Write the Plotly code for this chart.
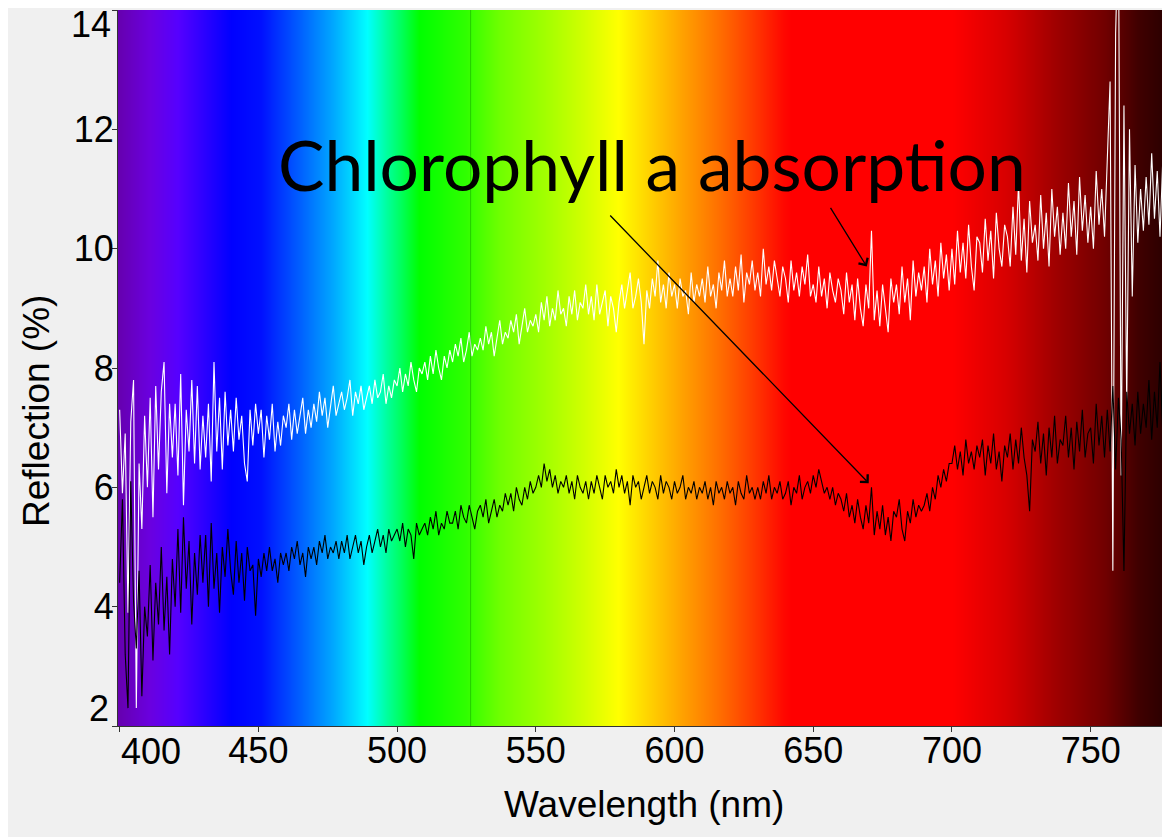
import plotly.graph_objects as go

# ---------------- data ----------------
wavelength_start = 400
wavelength_end = 778
wavelengths = list(range(wavelength_start, wavelength_end + 1))

white_reflection = [
    7.30, 5.90, 6.90, 3.90, 7.10, 7.80, 2.30, 6.40, 5.30, 7.20,   # 400
    6.00, 7.50, 5.50, 7.70, 6.30, 7.60, 8.10, 5.90, 7.40, 6.50,   # 410
    7.40, 6.20, 7.90, 5.70, 7.30, 6.60, 7.80, 6.40, 7.70, 6.30,   # 420
    7.20, 6.50, 7.40, 6.10, 8.10, 6.60, 7.50, 6.30, 7.60, 6.70,   # 430
    7.30, 6.60, 7.50, 6.80, 7.20, 6.40, 6.10, 7.30, 6.70, 7.40,   # 440
    6.90, 7.30, 6.50, 7.20, 6.80, 7.40, 6.60, 7.10, 6.70, 7.20,   # 450
    7.00, 7.40, 6.80, 7.30, 6.90, 7.20, 7.50, 6.90, 7.30, 7.00,   # 460
    7.40, 7.10, 7.60, 7.20, 7.50, 7.00, 7.40, 7.70, 7.20, 7.40,   # 470
    7.60, 7.30, 7.50, 7.80, 7.20, 7.60, 7.40, 7.70, 7.30, 7.50,   # 480
    7.70, 7.40, 7.80, 7.50, 7.60, 7.90, 7.40, 7.70, 7.50, 7.80,   # 490
    7.70, 8.00, 7.60, 7.90, 7.70, 8.10, 7.80, 7.60, 8.00, 7.90,   # 500
    8.10, 7.80, 8.20, 7.90, 8.30, 8.00, 7.80, 8.20, 8.00, 8.30,   # 510
    8.10, 8.40, 8.20, 8.50, 8.10, 8.30, 8.60, 8.20, 8.40, 8.30,   # 520
    8.50, 8.30, 8.70, 8.40, 8.60, 8.20, 8.50, 8.80, 8.40, 8.60,   # 530
    8.50, 8.80, 8.60, 8.90, 8.40, 8.70, 9.00, 8.60, 8.80, 8.70,   # 540
    8.90, 8.60, 9.10, 8.80, 9.20, 8.70, 9.00, 8.80, 9.30, 8.90,   # 550
    9.00, 8.70, 9.20, 8.90, 9.30, 8.80, 9.10, 9.00, 9.40, 8.90,   # 560
    9.20, 8.80, 9.40, 8.90, 9.10, 9.30, 8.70, 9.20, 9.00, 8.60,   # 570
    9.10, 9.40, 9.00, 9.30, 9.60, 9.00, 9.20, 9.50, 9.10, 8.40,   # 580
    9.30, 9.00, 9.50, 9.20, 9.80, 9.10, 9.40, 9.00, 9.60, 9.20,   # 590
    9.40, 9.00, 9.50, 9.20, 9.30, 8.90, 9.60, 9.10, 9.40, 9.20,   # 600
    9.50, 9.10, 9.70, 9.20, 9.40, 9.00, 9.60, 9.30, 9.80, 9.20,   # 610
    9.50, 9.20, 9.70, 9.30, 9.90, 9.10, 9.60, 9.40, 9.80, 9.30,   # 620
    9.60, 9.20, 10.00, 9.40, 9.70, 9.30, 9.80, 9.50, 9.20, 9.70,  # 630
    9.50, 9.10, 9.80, 9.30, 9.60, 9.20, 9.70, 9.40, 9.90, 9.20,   # 640
    9.40, 9.10, 9.70, 9.20, 9.50, 9.00, 9.60, 9.30, 9.10, 9.50,   # 650
    9.30, 8.90, 9.60, 9.10, 9.40, 8.80, 9.50, 9.00, 8.70, 9.40,   # 660
    9.00, 10.30, 8.80, 9.30, 8.70, 9.40, 9.00, 8.60, 9.50, 9.10,  # 670
    9.40, 8.90, 9.70, 9.10, 9.50, 8.80, 9.80, 9.20, 9.60, 9.30,   # 680
    9.70, 9.10, 10.00, 9.40, 9.80, 9.20, 10.10, 9.50, 9.90, 9.30, # 690
    10.00, 9.40, 10.30, 9.60, 10.10, 9.50, 10.40, 9.70, 9.30, 10.20,   # 700
    10.10, 9.60, 10.50, 9.80, 10.30, 9.50, 10.60, 10.00, 9.70, 10.40,  # 710
    10.20, 9.70, 10.70, 9.90, 11.10, 9.80, 10.50, 9.60, 10.80, 10.10,  # 720
    10.40, 9.80, 10.90, 10.00, 10.60, 9.70, 11.00, 10.20, 10.70, 9.90, # 730
    10.60, 10.00, 11.10, 10.20, 10.80, 9.90, 11.20, 10.30, 10.90, 10.10,  # 740
    10.70, 10.00, 11.30, 10.40, 11.00, 10.20, 11.50, 12.80, 4.60, 13.60,  # 750
    15.50, 6.20, 12.40, 7.40, 12.00, 9.20, 11.40, 10.10, 11.00, 10.30,    # 760
    11.20, 10.40, 11.60, 10.50, 11.30, 10.20, 11.50, 10.60, 11.30,        # 770
]

black_reflection = [
    4.40, 5.80, 3.20, 2.30, 6.10, 4.10, 3.30, 4.60, 2.50, 4.00,   # 400
    3.50, 4.70, 3.10, 4.40, 3.70, 5.00, 3.60, 4.50, 3.20, 4.80,   # 410
    4.00, 5.30, 3.90, 5.50, 4.30, 5.10, 3.70, 4.90, 4.20, 5.20,   # 420
    4.40, 5.20, 4.00, 5.40, 4.30, 4.90, 3.90, 5.00, 4.50, 5.30,   # 430
    4.60, 4.20, 5.10, 4.40, 4.90, 4.10, 5.00, 4.60, 4.70, 3.85,   # 440
    4.80, 4.50, 4.90, 4.60, 5.00, 4.60, 4.80, 4.40, 4.90, 4.70,   # 450
    4.90, 4.60, 5.00, 4.80, 5.10, 4.70, 4.90, 4.50, 5.00, 4.80,   # 460
    5.00, 4.70, 5.10, 4.90, 5.20, 4.80, 5.00, 4.90, 5.10, 4.80,   # 470
    5.10, 4.90, 5.20, 4.80, 5.00, 5.20, 4.90, 5.10, 4.70, 5.00,   # 480
    5.20, 4.90, 5.10, 5.30, 5.00, 5.20, 4.90, 5.30, 5.10, 5.20,   # 490
    5.30, 5.10, 5.40, 5.00, 5.30, 5.20, 4.80, 5.40, 5.20, 5.30,   # 500
    5.40, 5.20, 5.50, 5.30, 5.60, 5.20, 5.40, 5.30, 5.60, 5.40,   # 510
    5.40, 5.60, 5.30, 5.70, 5.50, 5.40, 5.70, 5.50, 5.30, 5.60,   # 520
    5.70, 5.50, 5.80, 5.40, 5.60, 5.80, 5.50, 5.70, 5.60, 5.90,   # 530
    5.70, 5.90, 5.60, 6.00, 5.80, 5.70, 6.00, 5.80, 6.10, 5.90,   # 540
    6.00, 6.20, 6.00, 6.40, 6.10, 6.30, 6.00, 6.20, 5.90, 6.10,   # 550
    6.00, 6.20, 5.90, 6.10, 5.80, 6.20, 6.00, 5.90, 6.10, 5.80,   # 560
    6.10, 5.90, 6.20, 6.00, 5.80, 6.20, 6.00, 6.10, 5.90, 6.30,   # 570
    6.00, 6.20, 5.90, 6.10, 5.70, 6.20, 6.00, 6.10, 5.80, 6.00,   # 580
    6.20, 5.90, 6.10, 6.00, 5.80, 6.20, 5.90, 6.10, 6.00, 5.80,   # 590
    6.10, 5.90, 6.00, 6.20, 5.80, 6.00, 5.90, 6.10, 5.80, 6.00,   # 600
    5.90, 6.10, 5.80, 6.00, 5.70, 6.10, 5.90, 6.00, 5.80, 6.10,   # 610
    5.90, 6.00, 5.70, 6.10, 5.90, 5.80, 6.20, 5.90, 6.00, 5.80,   # 620
    6.00, 5.80, 6.10, 5.90, 6.20, 5.80, 6.00, 5.90, 6.10, 5.80,   # 630
    5.90, 6.10, 5.70, 6.00, 5.90, 6.20, 5.80, 6.00, 6.10, 5.90,   # 640
    6.20, 6.00, 6.30, 6.10, 5.90, 6.00, 5.80, 6.00, 5.70, 5.90,   # 650
    5.80, 5.60, 5.90, 5.50, 5.70, 5.40, 5.80, 5.50, 5.30, 5.70,   # 660
    5.40, 6.00, 5.20, 5.60, 5.30, 5.70, 5.20, 5.50, 5.10, 5.60,   # 670
    5.50, 5.80, 5.30, 5.10, 5.60, 5.40, 5.80, 5.50, 5.70, 5.60,   # 680
    5.70, 5.90, 5.60, 6.00, 5.80, 6.20, 6.00, 6.30, 6.10, 6.40,   # 690
    6.40, 6.70, 6.30, 6.60, 6.20, 6.80, 6.40, 6.60, 6.30, 6.70,   # 700
    6.50, 6.80, 6.20, 6.70, 6.40, 6.90, 6.30, 6.60, 6.10, 6.70,   # 710
    6.50, 6.90, 6.30, 6.80, 6.40, 7.00, 6.50, 6.20, 5.60, 6.80,   # 720
    6.60, 7.10, 6.40, 6.90, 6.20, 7.00, 6.50, 7.20, 6.40, 6.80,   # 730
    6.70, 7.20, 6.50, 7.00, 6.30, 7.10, 6.60, 7.30, 6.50, 6.90,   # 740
    7.00, 6.40, 7.40, 6.70, 7.20, 6.50, 7.30, 6.60, 7.70, 6.30,   # 750
    7.50, 6.80, 4.60, 7.60, 6.90, 7.40, 6.70, 7.60, 6.90, 7.40,   # 760
    7.00, 7.80, 6.80, 7.60, 7.00, 8.10, 6.90, 7.70, 7.20,         # 770
]

x_ticks = [400, 450, 500, 550, 600, 650, 700, 750]
x_tick_text = ["", "450", "500", "550", "600", "650", "700", "750"]
y_ticks = [2, 4, 6, 8, 10, 12, 14]
y_tick_text = ["", "4", "6", "8", "10", "12", ""]

# visible-spectrum backdrop: (wavelength, colour) stops
spectrum_nm = [395, 399.6, 411, 421, 440, 451, 465, 477, 489, 496, 501, 508,
               525, 537, 555, 567, 579.5, 591, 603, 615.5, 627, 639, 642,
               700, 719, 737, 755, 767, 778, 785]
spectrum_col = ["#6600a8", "#6600b0", "#6a00e0", "#5500ff", "#0000ff", "#0010ff",
                "#0060ff", "#00a8ff", "#00ffff", "#00ffa0", "#00ff60", "#00ff00",
                "#30ff00", "#70ff00", "#a8ff00", "#d0ff00", "#ffff00", "#ffd000",
                "#ffa000", "#ff7000", "#ff4000", "#ff0800", "#ff0000",
                "#ff0000", "#d80000", "#a00000", "#700000", "#400000", "#280000",
                "#200000"]

annotation_text = "Chlorophyll a absorption"

# ---------------- figure ----------------
x_min, x_max = 399.4, 778.6
y_min, y_max = 2, 14
tick_font = dict(family="Liberation Sans", size=36, color="black")

lo, hi = spectrum_nm[0], spectrum_nm[-1]
colorscale = [[(n - lo) / (hi - lo), c] for n, c in zip(spectrum_nm, spectrum_col)]

fig = go.Figure()
fig.add_trace(go.Heatmap(
    x=spectrum_nm, y=[0, 16], z=[spectrum_nm, spectrum_nm],
    zmin=lo, zmax=hi, colorscale=colorscale, zsmooth="best",
    showscale=False, hoverinfo="skip"))

fig.add_trace(go.Scatter(x=wavelengths, y=white_reflection, mode="lines",
                         line=dict(color="white", width=1.1), showlegend=False))
fig.add_trace(go.Scatter(x=wavelengths, y=black_reflection, mode="lines",
                         line=dict(color="black", width=1.1), showlegend=False))

# faint vertical line in the backdrop
fig.add_shape(type="line", x0=526.5, x1=526.5, y0=y_min, y1=y_max, xref="x", yref="y",
              line=dict(color="rgba(0,110,0,0.35)", width=1), layer="above")

# annotation text and arrows
fig.add_annotation(x=592.0, y=11.42, xref="x", yref="y", text=annotation_text,
                   showarrow=False, font=dict(family="Lato", size=69.5, color="black"))
fig.add_annotation(x=670.0, y=6.07, ax=576.3, ay=10.58, xref="x", yref="y",
                   axref="x", ayref="y", text="", showarrow=True, arrowhead=4,
                   arrowsize=1.6, arrowwidth=1.3, arrowcolor="black")
fig.add_annotation(x=669.3, y=9.7, ax=655.9, ay=10.71, xref="x", yref="y",
                   axref="x", ayref="y", text="", showarrow=True, arrowhead=4,
                   arrowsize=1.6, arrowwidth=1.3, arrowcolor="black")

# end tick labels nudged inside, as in the original
fig.add_annotation(x=0, y=13.76, xref="paper", yref="y", text="14", showarrow=False,
                   xanchor="right", yanchor="middle", xshift=-5, font=tick_font)
fig.add_annotation(x=0, y=2.29, xref="paper", yref="y", text="2", showarrow=False,
                   xanchor="right", yanchor="middle", xshift=-7, font=tick_font)
fig.add_annotation(x=411.3, y=0, xref="x", yref="paper", text="400", showarrow=False,
                   xanchor="center", yanchor="top", yshift=-3, font=tick_font)

# axis titles
fig.add_annotation(x=-0.077, y=0.44, xref="paper", yref="paper", text="Reflection (%)",
                   textangle=-90, showarrow=False, xanchor="center", yanchor="middle",
                   font=dict(family="Liberation Sans", size=37, color="black"))
fig.add_annotation(x=0.5, y=-0.110, xref="paper", yref="paper", text="Wavelength (nm)",
                   showarrow=False, xanchor="center", yanchor="middle",
                   font=dict(family="Liberation Sans", size=37, color="black"))

axis_common = dict(showgrid=False, zeroline=False, showline=True, linecolor="#333333",
                   linewidth=1, ticks="outside", ticklen=5, tickcolor="#333333",
                   tickfont=tick_font)
fig.update_xaxes(range=[x_min, x_max], tickvals=x_ticks, ticktext=x_tick_text,
                 ticklabelstandoff=-12, **axis_common)
fig.update_yaxes(range=[y_min, y_max], tickvals=y_ticks, ticktext=y_tick_text,
                 ticklabelstandoff=-9, **axis_common)

# page body adds an 8px offset, so the figure is sized to end at the window edge
fig.update_layout(width=1162, height=829,
                  margin=dict(l=110, r=0, t=2, b=111),
                  paper_bgcolor="#f0f0f0", plot_bgcolor="#f0f0f0",
                  showlegend=False)

fig.write_html("out.html", config={"displayModeBar": False})
